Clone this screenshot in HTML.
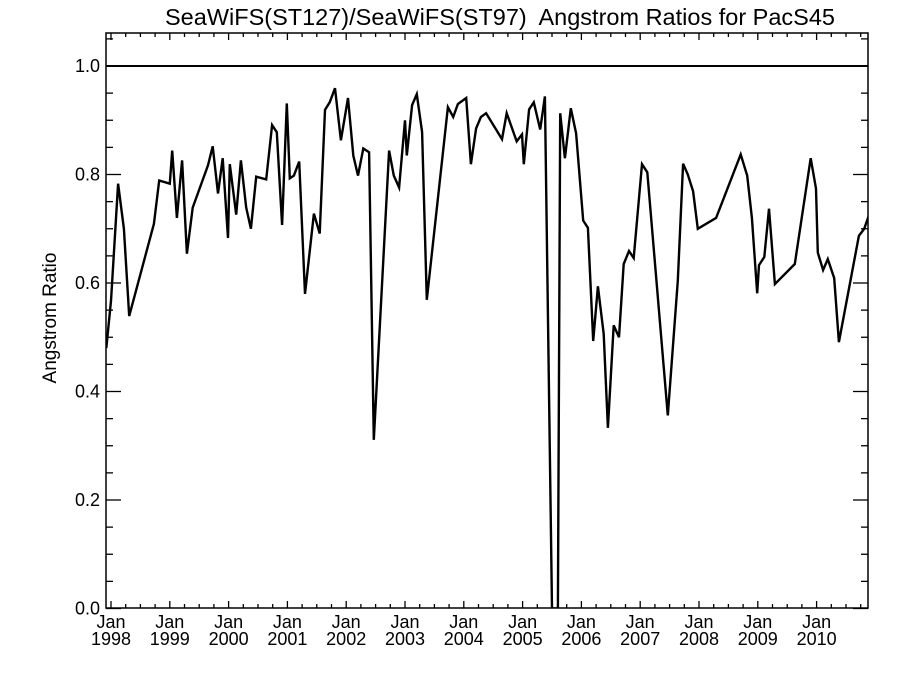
<!DOCTYPE html>
<html><head><meta charset="utf-8"><style>
body{margin:0;background:#fff}
svg{display:block;font-family:"Liberation Sans",Arial,sans-serif}
</style></head><body>
<svg id="chart" width="900" height="675" viewBox="0 0 900 675" xmlns="http://www.w3.org/2000/svg">
<rect width="900" height="675" fill="#fff"/>
<text x="500" y="25" text-anchor="middle" font-size="23.5" xml:space="preserve" style="white-space:pre">SeaWiFS(ST127)/SeaWiFS(ST97)  Angstrom Ratios for PacS45</text>
<text transform="translate(56,318) rotate(-90)" text-anchor="middle" font-size="19">Angstrom Ratio</text>
<defs><clipPath id="pc"><rect x="106" y="33" width="762" height="575"/></clipPath></defs>
<g id="ticks"></g>
<g id="labels"></g>
<line id="refline" stroke="#000" stroke-width="2"/>
<path id="series" fill="none" stroke="#000" stroke-width="2.4" stroke-linejoin="miter" clip-path="url(#pc)"/>
<rect x="106" y="33" width="762" height="575" fill="none" stroke="#000" stroke-width="1.5"/>
</svg>
<script>
const dates=[1997.92,1998.00,1998.12,1998.22,1998.31,1998.73,1998.82,1999.00,1999.04,1999.12,1999.21,1999.29,1999.39,1999.65,1999.73,1999.82,1999.90,1999.99,2000.02,2000.13,2000.21,2000.30,2000.38,2000.47,2000.64,2000.74,2000.82,2000.91,2000.99,2001.04,2001.11,2001.20,2001.30,2001.45,2001.55,2001.64,2001.72,2001.81,2001.91,2002.03,2002.12,2002.20,2002.29,2002.39,2002.47,2002.73,2002.81,2002.90,2003.00,2003.03,2003.12,2003.20,2003.29,2003.37,2003.73,2003.82,2003.90,2004.04,2004.12,2004.21,2004.29,2004.38,2004.65,2004.73,2004.90,2004.99,2005.02,2005.11,2005.19,2005.30,2005.38,2005.50,2005.60,2005.64,2005.72,2005.82,2005.91,2006.03,2006.11,2006.20,2006.28,2006.38,2006.45,2006.55,2006.64,2006.72,2006.81,2006.89,2007.03,2007.12,2007.47,2007.64,2007.73,2007.81,2007.90,2007.98,2008.29,2008.71,2008.82,2008.90,2008.99,2009.02,2009.11,2009.19,2009.29,2009.63,2009.90,2009.99,2010.02,2010.11,2010.19,2010.30,2010.38,2010.72,2010.81,2010.91];
const ratios=[0.48,0.567,0.783,0.70,0.539,0.709,0.789,0.783,0.844,0.72,0.826,0.654,0.739,0.817,0.852,0.765,0.83,0.683,0.819,0.726,0.826,0.739,0.70,0.796,0.791,0.891,0.878,0.707,0.931,0.793,0.798,0.824,0.58,0.728,0.691,0.919,0.933,0.959,0.863,0.941,0.835,0.798,0.848,0.841,0.311,0.844,0.798,0.776,0.90,0.835,0.928,0.948,0.878,0.569,0.924,0.906,0.93,0.941,0.819,0.885,0.906,0.913,0.865,0.913,0.861,0.874,0.819,0.92,0.933,0.883,0.944,0.0,0.0,0.913,0.83,0.922,0.876,0.715,0.702,0.493,0.594,0.506,0.333,0.522,0.50,0.635,0.659,0.646,0.819,0.804,0.356,0.604,0.82,0.80,0.769,0.70,0.72,0.837,0.798,0.72,0.581,0.633,0.648,0.737,0.598,0.635,0.83,0.774,0.656,0.624,0.644,0.609,0.491,0.687,0.70,0.731];
const yTicks=[0,0.2,0.4,0.6,0.8,1.0];
const yTickLabels=["0.0","0.2","0.4","0.6","0.8","1.0"];
const years=[1998,1999,2000,2001,2002,2003,2004,2005,2006,2007,2008,2009,2010];
const refValue=1.0;
const L=106,R=868,T=33,B=608;
const X=d=>111+(d-1998)*58.8;
const Y=v=>608.5-v*542.5;
const NS="http://www.w3.org/2000/svg";
const tg=document.getElementById('ticks'),lg=document.getElementById('labels');
function ln(x1,y1,x2,y2,name){const l=document.createElementNS(NS,'line');
l.setAttribute('x1',x1);l.setAttribute('y1',y1);l.setAttribute('x2',x2);l.setAttribute('y2',y2);
l.setAttribute('stroke','#000');l.setAttribute('stroke-width','1.3');


tg.appendChild(l);}
function tx(x,y,s,anchor,name){const t=document.createElementNS(NS,'text');
t.setAttribute('x',x);t.setAttribute('y',y);t.setAttribute('text-anchor',anchor);t.setAttribute('font-size','18');t.textContent=s;


lg.appendChild(t);}
for(let v=0;v<=1.06;v+=0.05){const y=Y(v);const major=Math.abs(Math.round(v*5)-v*5)<1e-6;const len=major?15:7;
ln(L,y,L+len,y,'y-tick');ln(R,y,R-len,y,'y-tick-right');}
yTicks.forEach((v,i)=>tx(L-6,Y(v)+6,yTickLabels[i],'end','y-tick-label'));
for(let d=1998;d<=2011;d+=0.25){const x=X(d);if(x<L||x>R)continue;const major=Math.abs(d-Math.round(d))<1e-6;const len=major?7:4;
ln(x,B,x,B-len,'x-tick');ln(x,T,x,T+len,'x-tick-top');}
years.forEach(yr=>{tx(X(yr),628,'Jan','middle','x-tick-month');tx(X(yr),645,String(yr),'middle','x-tick-year');});
const rl=document.getElementById('refline');
rl.setAttribute('x1',L);rl.setAttribute('x2',R);rl.setAttribute('y1',Y(refValue));rl.setAttribute('y2',Y(refValue));
document.getElementById('series').setAttribute('d',dates.map((d,i)=>(i?'L':'M')+X(d).toFixed(1)+','+Y(ratios[i]).toFixed(1)).join(''));
</script>
</body></html>
